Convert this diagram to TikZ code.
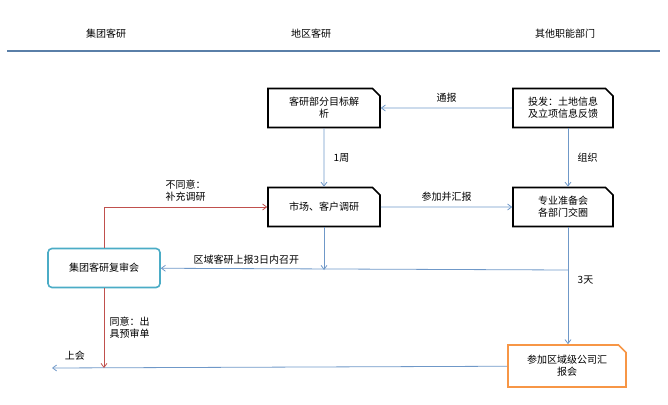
\documentclass[tikz,border=0pt]{standalone}
\usepackage{fontspec}
\setmainfont{Noto Sans CJK SC}
\usetikzlibrary{shapes.misc,arrows.meta}
\definecolor{lineblue}{HTML}{6F98C8}
\definecolor{headblue}{HTML}{5A7FA8}
\definecolor{redline}{HTML}{C0504D}
\definecolor{cyanbox}{HTML}{4BACC6}
\definecolor{orangebox}{HTML}{F79646}
\tikzset{
  stepbox/.style={draw, line width=1.6pt, chamfered rectangle, chamfered rectangle corners=north east,
    chamfered rectangle xsep=4pt, minimum width=112pt, minimum height=39pt, align=center, inner sep=2pt, font=\fontsize{10}{12}\selectfont},
  flow/.style={draw=lineblue, line width=0.8pt, -{Straight Barb[length=4pt,width=6pt]}},
  redflow/.style={draw=redline, line width=0.8pt, -{Straight Barb[length=4pt,width=6pt]}},
  lbl/.style={font=\fontsize{10}{12}\selectfont, align=center}
}
\begin{document}
\begin{tikzpicture}[x=1pt,y=-1pt]
\useasboundingbox (0,0) rectangle (668,404);
% header
\node[lbl] (hgroup) at (106,34) {集团客研};
\node[lbl] (hregion) at (311,34) {地区客研};
\node[lbl] (hother) at (565,34) {其他职能部门};
\draw[headblue, line width=2pt] (7,51) -- (660,51);

% boxes
\node[stepbox] (target) at (324,108) {客研部分目标解\\析};
\node[stepbox, minimum width=100pt] (invest) at (563,108) {投发：土地信息\\及立项信息反馈};
\node[stepbox] (survey) at (324,207) {市场、客户调研};
\node[stepbox, minimum width=100pt] (prep) at (563,207) {专业准备会\\各部门交圈};
\node[draw=cyanbox, line width=1.6pt, rounded corners=4pt, minimum width=112pt, minimum height=39pt,
  font=\fontsize{10}{12}\selectfont] (review) at (104,268) {集团客研复审会};
\node[stepbox, draw=orangebox, minimum width=118pt, minimum height=42pt] (report) at (567,366) {参加区域级公司汇\\报会};

% connectors
\draw[flow] (invest) -- node[lbl, above=2pt] {通报} (target);
\draw[flow] (target) -- node[lbl, right=6pt] {1周} (survey);
\draw[flow] (invest.south) ++(5,0) coordinate (invests) -- (invests |- prep.north) node[lbl, midway, right=6pt] {组织};
\draw[flow] (survey) -- node[lbl, above=2pt] {参加并汇报} (prep);
\coordinate (merge) at (324,270);
\draw[flow] (survey) -- (merge);
\coordinate (prepdown) at ([xshift=5pt]prep.south);
\draw[flow] (prepdown |- merge) -- node[lbl, above=1pt, pos=0.79] {区域客研上报3日内召开} (review);
\draw[flow] (prepdown) -- node[lbl, pos=0.45, right=6pt] {3天} (prepdown |- report.north);
\coordinate (meet) at (52,368);
\draw[flow] (report) -- node[lbl, above=4pt, pos=0.95] {上会} (meet);
\draw[redflow] (review.north) |- node[lbl, pos=0.75, above=2pt] {不同意：\\补充调研} (survey.west);
\draw[redflow] (review.south) -- node[lbl, right=2pt] {同意：出\\具预审单} (review.south |- meet);
\end{tikzpicture}
\end{document}
